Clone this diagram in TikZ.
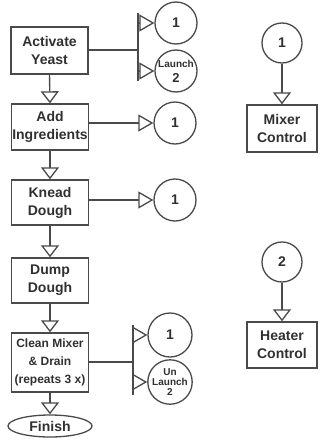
\documentclass[tikz,border=0pt]{standalone}
\usepackage{fontspec}
\setmainfont{Liberation Sans}
\usetikzlibrary{arrows.meta,shapes.geometric}
\definecolor{ln}{HTML}{4A4A4A}
\definecolor{tx}{HTML}{303030}
\begin{document}
\begin{tikzpicture}[x=1pt,y=-1pt,
  box/.style={draw=ln, line width=1.4pt, rectangle, minimum width=77pt, inner sep=0pt, align=center, text=tx, font=\bfseries\fontsize{14}{18}\selectfont},
  rbox/.style={box, minimum width=70pt, minimum height=47pt},
  circ/.style={draw=ln, line width=1.3pt, circle, inner sep=0pt, align=center, text=tx, font=\bfseries\fontsize{14}{16}\selectfont},
  fin/.style={draw=ln, line width=1.3pt, ellipse, minimum width=84pt, minimum height=22pt, inner sep=0pt, text=tx, font=\bfseries\fontsize{14}{16}\selectfont},
  conn/.style={draw=ln, line width=1.4pt},
  arrv/.style={conn, -{Triangle[open, length=12pt, width=18pt, line width=1.3pt]}},
  arrh/.style={conn, -{Triangle[open, length=15pt, width=17pt, line width=1.3pt]}},
  small/.style={font=\bfseries\fontsize{10}{11}\selectfont}
]
\useasboundingbox (0,0) rectangle (323,444);

% left column
\node[box, minimum height=47pt] (A) at (49.5,50.5) {Activate\\Yeast};
\node[box, minimum height=46pt] (B) at (50,127) {Add\\Ingredients};
\node[box, minimum height=45pt] (C) at (50,202.5) {Knead\\Dough};
\node[box, minimum height=45pt] (D) at (50,280.5) {Dump\\Dough};
\node[box, minimum height=59pt, font=\bfseries\fontsize{12}{18}\selectfont] (E) at (50,362.5) {Clean Mixer\\\& Drain\\(repeats 3 x)};
\node[fin] (F) at (50,426) {Finish};

\draw[arrv] (A.south) -- (B.north);
\draw[arrv] (B.south) -- (C.north);
\draw[arrv] (C.south) -- (D.north);
\draw[arrv] (D.south) -- (E.north);
\draw[arrv] (E.south) -- (F.north);

% Activate Yeast branches
\node[circ, minimum size=42pt] (a1) at (176,23) {1};
\node[circ, minimum size=42pt] (a2) at (176,71) {\fontsize{10}{11}\selectfont Launch\\[-1pt]\fontsize{13}{12}\selectfont 2};
\coordinate (b1t) at (138,13);
\coordinate (b1b) at (138,81);
\draw[conn] (b1t) -- (b1b);
\draw[conn] (A.east |- 0,50) -- (138,50);
\draw[arrh] (a1.west -| b1t) -- (a1.west);
\draw[arrh] (a2.west -| b1t) -- (a2.west);

% Add Ingredients
\node[circ, minimum size=42pt] (bc) at (175,123) {1};
\draw[arrh] (B.east |- bc) -- (bc.west);

% Knead Dough
\node[circ, minimum size=42pt] (cc) at (175,200) {1};
\draw[arrh] (C.east |- cc) -- (cc.west);

% Clean Mixer branches
\node[circ, minimum size=44pt] (e1) at (170,335) {1};
\node[circ, minimum size=44pt, font=\bfseries\fontsize{10}{10}\selectfont] (e2) at (170,382) {Un\\Launch\\2};
\coordinate (b2t) at (133,325);
\coordinate (b2b) at (133,395);
\draw[conn] (b2t) -- (b2b);
\draw[conn] (E.east |- 0,362) -- (133,362);
\draw[arrh] (e1.west -| b2t) -- (e1.west);
\draw[arrh] (e2.west -| b2t) -- (e2.west);

% right column
\node[circ, minimum size=40pt] (r1) at (282,43) {1};
\node[rbox] (M) at (282,128.5) {Mixer\\Control};
\draw[arrv] (r1.south) -- (M.north);
\node[circ, minimum size=40pt] (r2) at (282,262) {2};
\node[rbox, minimum height=46pt] (H) at (282,345) {Heater\\Control};
\draw[arrv] (r2.south) -- (H.north);
\end{tikzpicture}
\end{document}
